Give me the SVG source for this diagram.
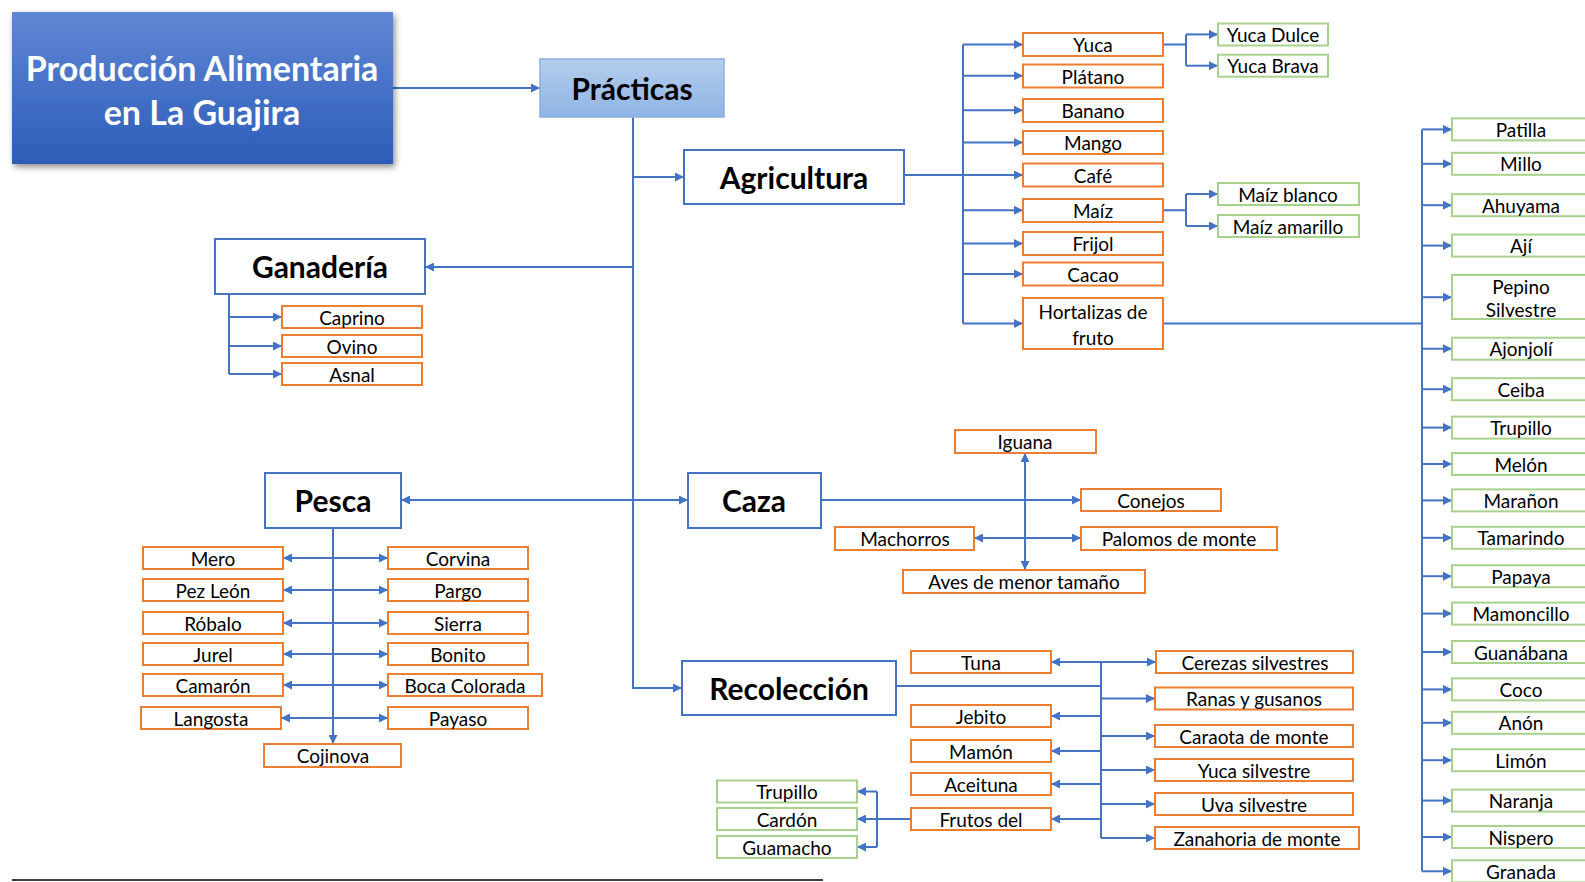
<svg xmlns="http://www.w3.org/2000/svg" width="1585" height="882" viewBox="0 0 1585 882">
<defs>
<linearGradient id="gTitle" x1="0" y1="0" x2="0" y2="1"><stop offset="0" stop-color="#5F87D5"/><stop offset="1" stop-color="#2D5CB8"/></linearGradient>
<linearGradient id="gPrac" x1="0" y1="0" x2="0" y2="1"><stop offset="0" stop-color="#B5CDEC"/><stop offset="1" stop-color="#8FB4E4"/></linearGradient>
<filter id="sh" x="-10%" y="-10%" width="125%" height="130%"><feDropShadow dx="2" dy="3" stdDeviation="3" flood-color="#000" flood-opacity="0.45"/></filter>
<marker id="ar" viewBox="0 0 10 10" markerWidth="10" markerHeight="9" refX="10" refY="5" orient="auto-start-reverse" markerUnits="userSpaceOnUse"><path d="M0,0 L10,5 L0,10 z" fill="#4472C4"/></marker>
<style>
.c{fill:none;stroke:#4472C4;stroke-width:2}
.a{marker-end:url(#ar)}
.b{marker-start:url(#ar);marker-end:url(#ar)}
.m{fill:#fff;stroke:#4472C4;stroke-width:2}
.o{fill:#fff;stroke:#ED7D31;stroke-width:2}
.g{fill:#fff;stroke:#A9D18E;stroke-width:2}
text{font-family:Lato,"Liberation Sans",sans-serif;text-anchor:middle;dominant-baseline:central;fill:#000}
.t{font-size:19px}
.tb{font-size:30px;font-weight:bold}
.tw{font-size:34px;font-weight:bold;fill:#fff}
</style>
</defs>
<g id="connectors">
<path class="c a" d="M393,88 H540"/>
<path class="c a" d="M633,117 V688 H682"/>
<path class="c a" d="M633,177 H684"/>
<path class="c a" d="M633,267 H425"/>
<path class="c b" d="M401,500 H688"/>
<path class="c" d="M229,294 V374"/>
<path class="c a" d="M229,317 H282"/><path class="c a" d="M229,346 H282"/><path class="c a" d="M229,374 H282"/>
<path class="c a" d="M333,528 V744"/>
<path class="c b" d="M283,558 H388"/><path class="c b" d="M283,590 H388"/><path class="c b" d="M283,623 H388"/><path class="c b" d="M283,654 H388"/><path class="c b" d="M283,685 H388"/><path class="c b" d="M281,718 H388"/>
<path class="c a" d="M821,500 H1081"/>
<path class="c b" d="M1025,453 V570"/>
<path class="c b" d="M974,538 H1081"/>
<path class="c" d="M904,175 H963"/>
<path class="c" d="M963,44.5 V323.5"/>
<path class="c a" d="M963,44.5 H1023"/><path class="c a" d="M963,75.8 H1023"/><path class="c a" d="M963,110.2 H1023"/><path class="c a" d="M963,142.5 H1023"/><path class="c a" d="M963,175 H1023"/><path class="c a" d="M963,210.3 H1023"/><path class="c a" d="M963,243.6 H1023"/><path class="c a" d="M963,273.9 H1023"/><path class="c a" d="M963,323.5 H1023"/>
<path class="c" d="M1163,44.5 H1186 M1186,34.4 V65.7"/>
<path class="c a" d="M1186,34.4 H1218"/><path class="c a" d="M1186,65.7 H1218"/>
<path class="c" d="M1163,210.3 H1186 M1186,194 V226"/>
<path class="c a" d="M1186,194 H1218"/><path class="c a" d="M1186,226 H1218"/>
<path class="c" d="M1163,323.5 H1422 M1422,129.4 V871.3"/>
<path class="c a" d="M1422,129.4 H1452"/><path class="c a" d="M1422,163.8 H1452"/><path class="c a" d="M1422,205.2 H1452"/><path class="c a" d="M1422,245.6 H1452"/><path class="c a" d="M1422,297.2 H1452"/><path class="c a" d="M1422,348.7 H1452"/><path class="c a" d="M1422,389.2 H1452"/><path class="c a" d="M1422,427.6 H1452"/><path class="c a" d="M1422,464 H1452"/><path class="c a" d="M1422,500.4 H1452"/><path class="c a" d="M1422,537.8 H1452"/><path class="c a" d="M1422,576.2 H1452"/><path class="c a" d="M1422,613.6 H1452"/><path class="c a" d="M1422,652 H1452"/><path class="c a" d="M1422,689.4 H1452"/><path class="c a" d="M1422,722.8 H1452"/><path class="c a" d="M1422,760.2 H1452"/><path class="c a" d="M1422,800.6 H1452"/><path class="c a" d="M1422,837 H1452"/><path class="c a" d="M1422,871.3 H1452"/>
<path class="c" d="M896,686 H1101 M1101,662 V838"/>
<path class="c a" d="M1101,662 H1051"/><path class="c a" d="M1101,716 H1051"/><path class="c a" d="M1101,751 H1051"/><path class="c a" d="M1101,784 H1051"/><path class="c a" d="M1101,819 H1051"/>
<path class="c a" d="M1101,662 H1156"/><path class="c a" d="M1101,698.5 H1155"/><path class="c a" d="M1101,736 H1155"/><path class="c a" d="M1101,770 H1155"/><path class="c a" d="M1101,804 H1155"/><path class="c a" d="M1101,838 H1155"/>
<path class="c" d="M911,819 H877 M877,791.5 V847"/>
<path class="c a" d="M877,791.5 H857"/><path class="c a" d="M877,819 H857"/><path class="c a" d="M877,847 H857"/>
</g>
<g id="title"><rect x="12" y="12" width="381" height="152" fill="url(#gTitle)" filter="url(#sh)"/><text class="tw" x="202" y="67">Producción Alimentaria</text><text class="tw" x="202" y="111">en La Guajira</text></g>
<g id="practicas"><rect x="540" y="59" width="184" height="58" fill="url(#gPrac)" stroke="#8DB0E0" stroke-width="1.5"/><text class="tb" x="632" y="88">Prácticas</text></g>
<g id="agricultura"><rect class="m" x="684" y="150" width="220" height="54"/><text class="tb" x="794" y="177">Agricultura</text></g>
<g id="ganaderia"><rect class="m" x="215" y="239" width="210" height="55"/><text class="tb" x="320" y="266">Ganadería</text></g>
<g id="pesca"><rect class="m" x="265" y="473" width="136" height="55"/><text class="tb" x="333" y="500">Pesca</text></g>
<g id="caza"><rect class="m" x="688" y="473" width="133" height="55"/><text class="tb" x="754" y="500">Caza</text></g>
<g id="recoleccion"><rect class="m" x="682" y="661" width="214" height="54"/><text class="tb" x="789" y="688">Recolección</text></g>
<g id="caprino"><rect class="o" x="282" y="306" width="140" height="22"/><text class="t" x="352" y="317">Caprino</text></g>
<g id="ovino"><rect class="o" x="282" y="335" width="140" height="22"/><text class="t" x="352" y="346">Ovino</text></g>
<g id="asnal"><rect class="o" x="282" y="363" width="140" height="22"/><text class="t" x="352" y="374">Asnal</text></g>
<g id="mero"><rect class="o" x="143" y="547" width="140" height="22"/><text class="t" x="213" y="558">Mero</text></g>
<g id="pezleon"><rect class="o" x="143" y="579" width="140" height="22"/><text class="t" x="213" y="590">Pez León</text></g>
<g id="robalo"><rect class="o" x="143" y="612" width="140" height="22"/><text class="t" x="213" y="623">Róbalo</text></g>
<g id="jurel"><rect class="o" x="143" y="643" width="140" height="22"/><text class="t" x="213" y="654">Jurel</text></g>
<g id="camaron"><rect class="o" x="143" y="674" width="140" height="22"/><text class="t" x="213" y="685">Camarón</text></g>
<g id="langosta"><rect class="o" x="141" y="707" width="140" height="22"/><text class="t" x="211" y="718">Langosta</text></g>
<g id="corvina"><rect class="o" x="388" y="547" width="140" height="22"/><text class="t" x="458" y="558">Corvina</text></g>
<g id="pargo"><rect class="o" x="388" y="579" width="140" height="22"/><text class="t" x="458" y="590">Pargo</text></g>
<g id="sierra"><rect class="o" x="388" y="612" width="140" height="22"/><text class="t" x="458" y="623">Sierra</text></g>
<g id="bonito"><rect class="o" x="388" y="643" width="140" height="22"/><text class="t" x="458" y="654">Bonito</text></g>
<g id="bocacolorada"><rect class="o" x="388" y="674" width="154" height="22"/><text class="t" x="465" y="685">Boca Colorada</text></g>
<g id="payaso"><rect class="o" x="388" y="707" width="140" height="22"/><text class="t" x="458" y="718">Payaso</text></g>
<g id="cojinova"><rect class="o" x="264" y="744" width="137" height="23"/><text class="t" x="333" y="755.5">Cojinova</text></g>
<g id="iguana"><rect class="o" x="955" y="430" width="141" height="23"/><text class="t" x="1025" y="441.5">Iguana</text></g>
<g id="conejos"><rect class="o" x="1081" y="489" width="140" height="22"/><text class="t" x="1151" y="500">Conejos</text></g>
<g id="machorros"><rect class="o" x="835" y="527" width="139" height="23"/><text class="t" x="905" y="538.5">Machorros</text></g>
<g id="palomos"><rect class="o" x="1081" y="527" width="196" height="23"/><text class="t" x="1179" y="538.5">Palomos de monte</text></g>
<g id="aves"><rect class="o" x="903" y="570" width="242" height="23"/><text class="t" x="1024" y="581.5">Aves de menor tamaño</text></g>
<g id="yuca"><rect class="o" x="1023" y="33" width="140" height="23"/><text class="t" x="1093" y="44.5">Yuca</text></g>
<g id="platano"><rect class="o" x="1023" y="64.5" width="140" height="23"/><text class="t" x="1093" y="76">Plátano</text></g>
<g id="banano"><rect class="o" x="1023" y="99" width="140" height="23"/><text class="t" x="1093" y="110.5">Banano</text></g>
<g id="mango"><rect class="o" x="1023" y="131" width="140" height="23"/><text class="t" x="1093" y="142.5">Mango</text></g>
<g id="cafe"><rect class="o" x="1023" y="163.5" width="140" height="23"/><text class="t" x="1093" y="175">Café</text></g>
<g id="maiz"><rect class="o" x="1023" y="199" width="140" height="23"/><text class="t" x="1093" y="210.5">Maíz</text></g>
<g id="frijol"><rect class="o" x="1023" y="232" width="140" height="23"/><text class="t" x="1093" y="243.5">Frijol</text></g>
<g id="cacao"><rect class="o" x="1023" y="262.5" width="140" height="23"/><text class="t" x="1093" y="274">Cacao</text></g>
<g id="hortalizas"><rect class="o" x="1023" y="298" width="140" height="51"/><text class="t" x="1093" y="311">Hortalizas de</text><text class="t" x="1093" y="337">fruto</text></g>
<g id="yucadulce"><rect class="g" x="1218" y="23.5" width="110" height="22"/><text class="t" x="1273" y="34.5">Yuca Dulce</text></g>
<g id="yucabrava"><rect class="g" x="1218" y="54.7" width="110" height="22"/><text class="t" x="1273" y="65.7">Yuca Brava</text></g>
<g id="maizblanco"><rect class="g" x="1218" y="183" width="141" height="22"/><text class="t" x="1288" y="194">Maíz blanco</text></g>
<g id="maizamarillo"><rect class="g" x="1218" y="215" width="141" height="22"/><text class="t" x="1288" y="226">Maíz amarillo</text></g>
<g id="patilla"><rect class="g" x="1452" y="118.4" width="140" height="22"/><text class="t" x="1521" y="129.4">Patilla</text></g>
<g id="millo"><rect class="g" x="1452" y="152.8" width="140" height="22"/><text class="t" x="1521" y="163.8">Millo</text></g>
<g id="ahuyama"><rect class="g" x="1452" y="194.2" width="140" height="22"/><text class="t" x="1521" y="205.2">Ahuyama</text></g>
<g id="aji"><rect class="g" x="1452" y="234.6" width="140" height="22"/><text class="t" x="1521" y="245.6">Ají</text></g>
<g id="pepino"><rect class="g" x="1452" y="275" width="140" height="44"/><text class="t" x="1521" y="286">Pepino</text><text class="t" x="1521" y="309">Silvestre</text></g>
<g id="ajonjoli"><rect class="g" x="1452" y="337.7" width="140" height="22"/><text class="t" x="1521" y="348.7">Ajonjolí</text></g>
<g id="ceiba"><rect class="g" x="1452" y="378.2" width="140" height="22"/><text class="t" x="1521" y="389.2">Ceiba</text></g>
<g id="trupillo1"><rect class="g" x="1452" y="416.6" width="140" height="22"/><text class="t" x="1521" y="427.6">Trupillo</text></g>
<g id="melon"><rect class="g" x="1452" y="453" width="140" height="22"/><text class="t" x="1521" y="464">Melón</text></g>
<g id="maranon"><rect class="g" x="1452" y="489.4" width="140" height="22"/><text class="t" x="1521" y="500.4">Marañon</text></g>
<g id="tamarindo"><rect class="g" x="1452" y="526.8" width="140" height="22"/><text class="t" x="1521" y="537.8">Tamarindo</text></g>
<g id="papaya"><rect class="g" x="1452" y="565.2" width="140" height="22"/><text class="t" x="1521" y="576.2">Papaya</text></g>
<g id="mamoncillo"><rect class="g" x="1452" y="602.6" width="140" height="22"/><text class="t" x="1521" y="613.6">Mamoncillo</text></g>
<g id="guanabana"><rect class="g" x="1452" y="641" width="140" height="22"/><text class="t" x="1521" y="652">Guanábana</text></g>
<g id="coco"><rect class="g" x="1452" y="678.4" width="140" height="22"/><text class="t" x="1521" y="689.4">Coco</text></g>
<g id="anon"><rect class="g" x="1452" y="711.8" width="140" height="22"/><text class="t" x="1521" y="722.8">Anón</text></g>
<g id="limon"><rect class="g" x="1452" y="749.2" width="140" height="22"/><text class="t" x="1521" y="760.2">Limón</text></g>
<g id="naranja"><rect class="g" x="1452" y="789.6" width="140" height="22"/><text class="t" x="1521" y="800.6">Naranja</text></g>
<g id="nispero"><rect class="g" x="1452" y="826" width="140" height="22"/><text class="t" x="1521" y="837">Nispero</text></g>
<g id="granada"><rect class="g" x="1452" y="860.3" width="140" height="22"/><text class="t" x="1521" y="871.3">Granada</text></g>
<g id="tuna"><rect class="o" x="911" y="651" width="140" height="22"/><text class="t" x="981" y="662">Tuna</text></g>
<g id="jebito"><rect class="o" x="911" y="705" width="140" height="22"/><text class="t" x="981" y="716">Jebito</text></g>
<g id="mamon"><rect class="o" x="911" y="740" width="140" height="22"/><text class="t" x="981" y="751">Mamón</text></g>
<g id="aceituna"><rect class="o" x="911" y="773" width="140" height="22"/><text class="t" x="981" y="784">Aceituna</text></g>
<g id="frutosdel"><rect class="o" x="911" y="808" width="140" height="22"/><text class="t" x="981" y="819">Frutos del</text></g>
<g id="cerezas"><rect class="o" x="1156" y="651" width="197" height="22"/><text class="t" x="1255" y="662">Cerezas silvestres</text></g>
<g id="ranas"><rect class="o" x="1155" y="687.5" width="198" height="22"/><text class="t" x="1254" y="698.5">Ranas y gusanos</text></g>
<g id="caraota"><rect class="o" x="1155" y="725" width="198" height="22"/><text class="t" x="1254" y="736">Caraota de monte</text></g>
<g id="yucasilvestre"><rect class="o" x="1155" y="759" width="198" height="22"/><text class="t" x="1254" y="770">Yuca silvestre</text></g>
<g id="uvasilvestre"><rect class="o" x="1155" y="793" width="198" height="22"/><text class="t" x="1254" y="804">Uva silvestre</text></g>
<g id="zanahoria"><rect class="o" x="1155" y="827" width="204" height="22"/><text class="t" x="1257" y="838">Zanahoria de monte</text></g>
<g id="trupillo2"><rect class="g" x="717" y="780.5" width="140" height="22"/><text class="t" x="787" y="791.5">Trupillo</text></g>
<g id="cardon"><rect class="g" x="717" y="808" width="140" height="22"/><text class="t" x="787" y="819">Cardón</text></g>
<g id="guamacho"><rect class="g" x="717" y="836" width="140" height="22"/><text class="t" x="787" y="847">Guamacho</text></g>
<path d="M12,880 H823" stroke="#000" stroke-width="1.5"/>
</svg>
